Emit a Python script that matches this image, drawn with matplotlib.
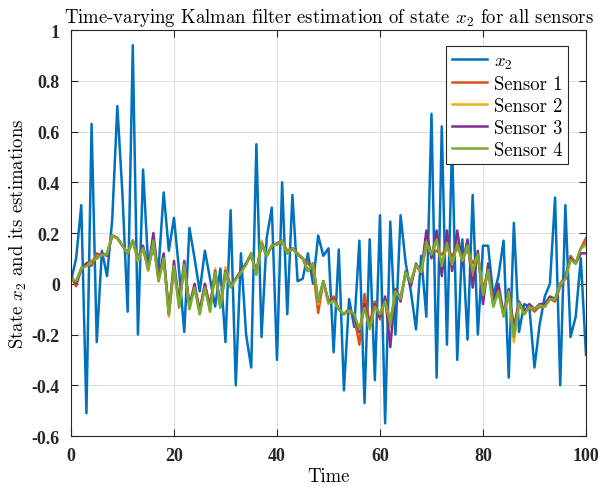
import matplotlib
matplotlib.use("Agg")
import matplotlib.pyplot as plt
import numpy as np
from matplotlib.ticker import FixedLocator, FuncFormatter

# time axis and true state x2
t = np.arange(0, 101)
x2 = [0.01, 0.10, 0.31, -0.51, 0.63, -0.23, 0.13, 0.03, 0.25, 0.70,
      0.35, -0.11, 0.94, -0.20, 0.45, 0.07, 0.14, 0.06, 0.36, 0.13,
      0.26, 0.05, -0.19, 0.22, 0.10, -0.03, 0.13, 0.02, -0.09, 0.06,
      -0.23, 0.29, -0.40, 0.12, -0.20, -0.33, 0.55, -0.21, 0.18, 0.30,
      -0.30, 0.40, -0.12, 0.35, 0.01, 0.02, 0.12, 0.00, 0.19, 0.11,
      0.14, -0.27, 0.135, -0.42, -0.06, -0.17, 0.17, -0.47, 0.175, -0.38,
      0.27, -0.55, 0.245, -0.20, 0.27, 0.08, -0.03, -0.18, 0.11, -0.13,
      0.67, -0.37, 0.62, -0.24, 0.56, -0.30, 0.175, -0.22, 0.35, -0.20,
      0.15, 0.15, -0.05, 0.03, 0.17, -0.37, 0.24, -0.19, -0.08, -0.09,
      -0.33, -0.16, -0.05, 0.00, 0.34, -0.40, 0.31, -0.21, -0.13, 0.10,
      -0.28]

# estimates of each sensor
s1 = [0.03, -0.01, 0.06, 0.08, 0.07, 0.12, 0.11, 0.12, 0.19, 0.18,
      0.15, 0.12, 0.17, 0.10, 0.14, 0.06, 0.16, 0.02, 0.10, -0.10,
      0.05, -0.07, 0.06, -0.08, -0.02, -0.10, -0.01, -0.08, 0.04, -0.08,
      0.04, -0.01, 0.02, 0.05, 0.08, 0.11, 0.04, 0.16, 0.11, 0.15,
      0.16, 0.17, 0.13, 0.14, 0.12, 0.10, 0.08, 0.06, -0.115, 0.01,
      -0.07, -0.05, -0.10, -0.12, -0.10, -0.13, -0.24, -0.04, -0.16, -0.07,
      -0.14, -0.06, -0.15, -0.03, -0.05, 0.04, 0.01, 0.07, 0.05, 0.15,
      0.12, 0.13, 0.115, 0.14, 0.11, 0.14, 0.11, 0.13, 0.08, 0.11,
      -0.02, 0.05, -0.08, -0.03, -0.12, -0.04, -0.17, -0.07, -0.12, -0.09,
      -0.11, -0.09, -0.09, -0.06, -0.07, -0.01, 0.02, 0.11, 0.08, 0.14,
      0.18]
s2 = [0.02, 0.01, 0.06, 0.07, 0.09, 0.10, 0.115, 0.115, 0.19, 0.18,
      0.15, 0.12, 0.17, 0.09, 0.14, 0.05, 0.17, 0.01, 0.10, -0.13,
      0.07, -0.09, 0.08, -0.10, -0.01, -0.12, 0.00, -0.11, 0.06, -0.09,
      0.065, -0.01, 0.02, 0.045, 0.075, 0.12, 0.04, 0.17, 0.11, 0.15,
      0.155, 0.17, 0.12, 0.14, 0.115, 0.10, 0.05, 0.08, -0.08, 0.01,
      -0.08, -0.065, -0.10, -0.12, -0.105, -0.12, -0.19, -0.09, -0.18, -0.09,
      -0.12, -0.07, -0.17, -0.03, -0.06, 0.045, 0.005, 0.075, 0.045, 0.17,
      0.11, 0.18, 0.07, 0.16, 0.075, 0.16, 0.09, 0.15, 0.04, 0.12,
      -0.05, 0.06, -0.09, -0.03, -0.12, -0.03, -0.23, -0.075, -0.12, -0.09,
      -0.10, -0.085, -0.09, -0.06, -0.06, 0.00, 0.02, 0.095, 0.08, 0.14,
      0.15]
s3 = [0.03, 0.00, 0.06, 0.08, 0.09, 0.10, 0.12, 0.11, 0.19, 0.18,
      0.15, 0.12, 0.17, 0.10, 0.15, 0.06, 0.20, 0.02, 0.12, -0.12,
      0.09, -0.08, 0.09, -0.09, 0.00, -0.11, 0.00, -0.10, 0.05, -0.09,
      0.05, -0.01, 0.02, 0.05, 0.08, 0.12, 0.045, 0.16, 0.11, 0.15,
      0.155, 0.17, 0.12, 0.14, 0.115, 0.10, 0.05, 0.08, -0.07, 0.01,
      -0.07, -0.06, -0.10, -0.12, -0.10, -0.13, -0.19, -0.08, -0.17, -0.08,
      -0.13, -0.05, -0.25, -0.02, -0.07, 0.05, -0.01, 0.08, 0.04, 0.21,
      0.10, 0.21, 0.03, 0.21, 0.05, 0.21, 0.075, 0.175, -0.015, 0.13,
      -0.08, 0.08, -0.08, 0.00, -0.12, -0.02, -0.18, -0.07, -0.11, -0.08,
      -0.10, -0.08, -0.08, -0.05, -0.06, 0.00, 0.03, 0.10, 0.08, 0.12,
      0.12]
s4 = [0.02, 0.01, 0.06, 0.07, 0.09, 0.10, 0.115, 0.115, 0.19, 0.18,
      0.15, 0.12, 0.17, 0.095, 0.14, 0.055, 0.17, 0.01, 0.10, -0.12,
      0.07, -0.095, 0.075, -0.10, -0.015, -0.12, -0.015, -0.11, 0.045, -0.095,
      0.045, -0.015, 0.017, 0.045, 0.075, 0.12, 0.035, 0.16, 0.11, 0.15,
      0.155, 0.17, 0.12, 0.14, 0.115, 0.10, 0.05, 0.08, -0.07, 0.01,
      -0.075, -0.065, -0.10, -0.12, -0.105, -0.12, -0.18, -0.095, -0.175, -0.09,
      -0.12, -0.07, -0.16, -0.03, -0.06, 0.045, 0.005, 0.075, 0.045, 0.165,
      0.115, 0.175, 0.07, 0.16, 0.075, 0.155, 0.09, 0.15, 0.045, 0.115,
      -0.045, 0.055, -0.09, -0.03, -0.13, -0.03, -0.21, -0.075, -0.12, -0.09,
      -0.10, -0.085, -0.09, -0.06, -0.06, 0.00, 0.02, 0.095, 0.08, 0.14,
      0.16]

labels = ['$x_2$', 'Sensor 1', 'Sensor 2', 'Sensor 3', 'Sensor 4']
colors = ['#0072BD', '#D95319', '#EDB120', '#7E2F8E', '#77AC30']
yticks = [-0.6, -0.4, -0.2, 0, 0.2, 0.4, 0.6, 0.8, 1]
xticks = [0, 20, 40, 60, 80, 100]

plt.rcParams['mathtext.fontset'] = 'cm'
plt.rcParams['axes.unicode_minus'] = False
plt.rcParams['axes.formatter.use_mathtext'] = False

fig = plt.figure(figsize=(5.98, 4.89), dpi=100)
ax = fig.add_axes([0.1187, 0.1063, 0.8612, 0.8303])

series = [x2, s1, s2, s3, s4]
for vals, lab, col in zip(series, labels, colors):
    ax.plot(t, vals, color=col, lw=1.8, label=lab)

ax.set_xlim(0, 100)
ax.set_ylim(-0.6, 1)
ax.xaxis.set_major_locator(FixedLocator(xticks))
ax.yaxis.set_major_locator(FixedLocator(yticks))
ax.yaxis.set_major_formatter(FuncFormatter(lambda v, p: '%g' % round(v, 2)))
ax.xaxis.set_major_formatter(FuncFormatter(lambda v, p: '%g' % v))
for lb in ax.get_xticklabels() + ax.get_yticklabels():
    lb.set_fontfamily('Liberation Serif')
    lb.set_fontweight('bold')
    lb.set_fontsize(13)
ax.tick_params(direction='in', length=5, width=0.8, top=True, right=True,
               colors='#262626', pad=8)
ax.grid(True, color='#dfdfdf', lw=0.7)
ax.set_axisbelow(True)
for sp in ax.spines.values():
    sp.set_color('#262626')
    sp.set_linewidth(0.8)

ax.set_title('Time-varying Kalman filter estimation of state $x_2$ for all sensors',
             fontfamily='cmr10', fontsize=13.5, pad=6)
ax.set_xlabel('Time', fontfamily='cmr10', fontsize=13.5, labelpad=2)
ax.set_ylabel('State $x_2$ and its estimations', fontfamily='cmr10',
              fontsize=13.5, labelpad=2)

leg = ax.legend(loc='upper right', bbox_to_anchor=(0.965, 0.961),
                prop={'family': 'cmr10', 'size': 13.5}, fancybox=False,
                framealpha=1, edgecolor='#262626', borderpad=0.3,
                labelspacing=0.22, handlelength=1.9, handletextpad=0.35,
                borderaxespad=0)
leg.get_frame().set_linewidth(0.8)

fig.savefig('out.png', dpi=100)
